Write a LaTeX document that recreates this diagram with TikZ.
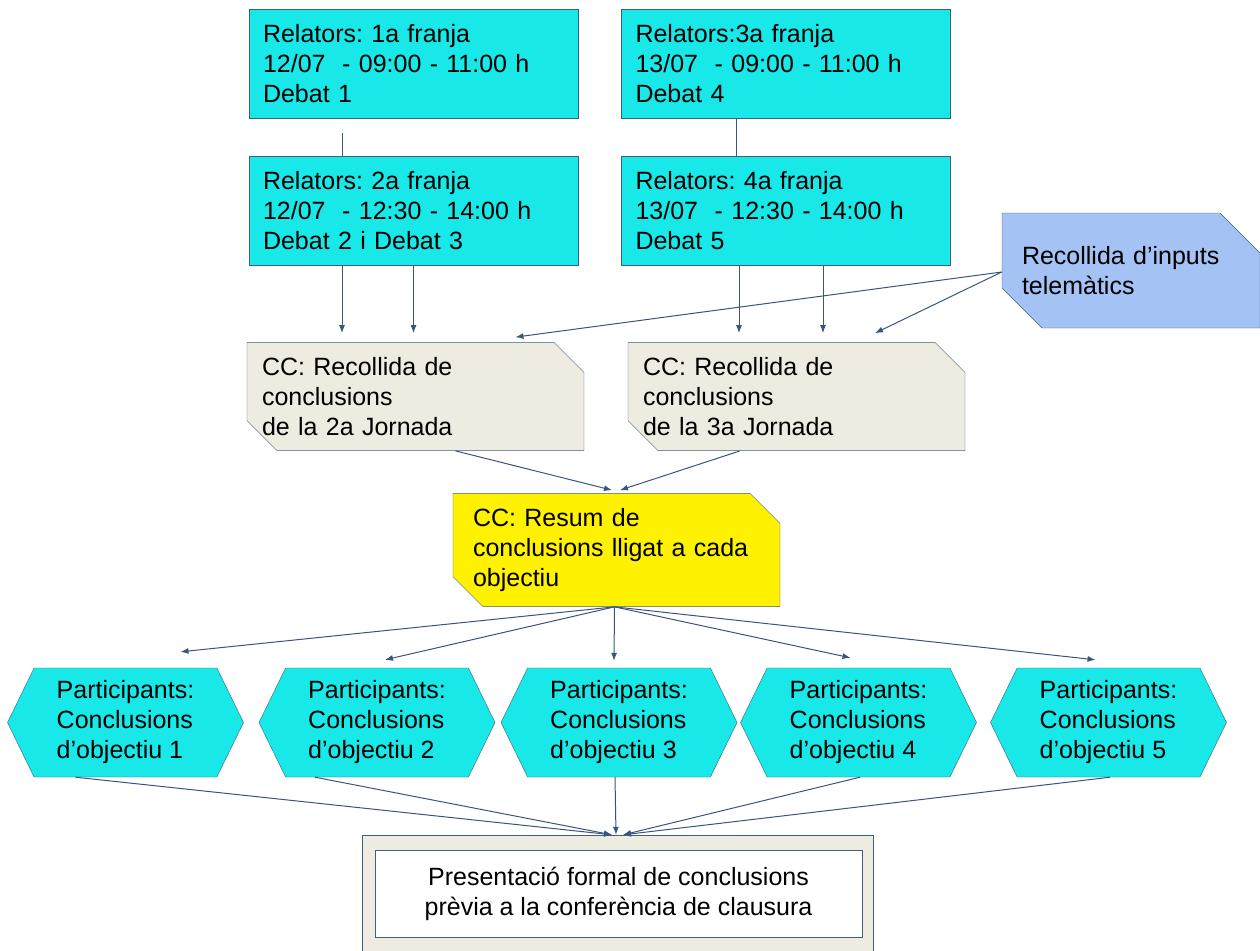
\documentclass[tikz,border=0pt]{standalone}
\usepackage{fontspec}
\setmainfont{Liberation Sans}
\usetikzlibrary{shapes.misc,shapes.symbols,arrows.meta}
\frenchspacing

\definecolor{slotcyan}{RGB}{24,232,232}
\definecolor{edgeblue}{RGB}{58,84,128}
\definecolor{shapeline}{RGB}{62,96,122}
\definecolor{ccgray}{RGB}{238,236,225}
\definecolor{inputblue}{RGB}{164,194,244}

\tikzset{
  slot/.style={rectangle, draw=shapeline, fill=slotcyan, inner xsep=14pt, inner ysep=0pt,
    text width=301pt, minimum height=109pt, align=left},
  cut/.style={chamfered rectangle, chamfered rectangle corners={north east, south west},
    draw=shapeline, inner ysep=0pt, align=left},
  collect/.style={cut, fill=ccgray, chamfered rectangle xsep=15pt, chamfered rectangle ysep=15pt,
    inner xsep=0pt, text width=307pt, minimum width=337pt, minimum height=107pt},
  summary/.style={cut, fill=yellow, chamfered rectangle xsep=15pt, chamfered rectangle ysep=15pt,
    inner xsep=0pt, text width=287pt, minimum width=327pt, minimum height=94pt},
  inputs/.style={cut, fill=inputblue, chamfered rectangle xsep=18pt, chamfered rectangle ysep=22pt,
    inner xsep=0pt, text width=218pt, minimum width=258pt, minimum height=115pt},
  goal/.style={signal, signal to=west and east, signal pointer angle=128, draw=shapeline,
    fill=slotcyan, inner sep=0pt, minimum width=236pt, minimum height=109pt, align=left},
  link/.style={draw=edgeblue, line width=1pt},
}

\begin{document}
\begin{tikzpicture}[x=1pt, y=-1pt, >={Latex[length=8pt,width=6pt]}, font=\fontsize{25}{30}\selectfont]
  \useasboundingbox (0,0) rectangle (1260,950);

  % relator slots
  \node[slot] (r1) at (413.5,63.5) {Relators: 1a franja\\12/07\ \ - 09:00 - 11:00 h\\Debat 1};
  \node[slot] (r2) at (786,63.5) {Relators:3a franja\\13/07\ \ - 09:00 - 11:00 h\\Debat 4};
  \node[slot] (r3) at (413.5,210.5) {Relators: 2a franja\\12/07\ \ - 12:30 - 14:00 h\\Debat 2 i Debat 3};
  \node[slot] (r4) at (786,210.5) {Relators: 4a franja\\13/07\ \ - 12:30 - 14:00 h\\Debat 5};

  \node[inputs] (inp) at (1131,270.5) {Recollida d’inputs\\telemàtics};

  % collecting conclusions
  \node[collect] (g1) at (415.5,396.5) {CC: Recollida de\\conclusions\\de la 2a Jornada};
  \node[collect] (g2) at (796.5,396.5) {CC: Recollida de\\conclusions\\de la 3a Jornada};

  \node[summary] (res) at (616.5,550) {CC: Resum de\\conclusions lligat a cada\\objectiu};

  \node[goal] (h1) at (125.5,722.5) {Participants:\\Conclusions\\d’objectiu 1};
  \node[goal] (h2) at (377,722.5) {Participants:\\Conclusions\\d’objectiu 2};
  \node[goal] (h3) at (619,722.5) {Participants:\\Conclusions\\d’objectiu 3};
  \node[goal] (h4) at (858.5,722.5) {Participants:\\Conclusions\\d’objectiu 4};
  \node[goal] (h5) at (1108.5,722.5) {Participants:\\Conclusions\\d’objectiu 5};

  \node[rectangle, draw=shapeline, fill=ccgray, minimum width=511pt, minimum height=117pt] (pres) at (617.5,893.5) {};
  \node[rectangle, draw=shapeline, fill=white, minimum width=487pt, minimum height=87pt, align=center] (prestext) at (618.5,893.5)
    {Presentació formal de conclusions\\prèvia a la conferència de clausura};

  % slot to slot
  \draw[link] ([xshift=-71.5pt,yshift=-15pt]r1.south) -- ([xshift=-71.5pt]r3.north);
  \draw[link] ([xshift=-50pt]r2.south) -- ([xshift=-50pt]r4.north);

  % slots to collecting
  \draw[link,->,shorten >=9pt] ([xshift=-71.5pt]r3.south) -- ([xshift=-71.5pt]r3.south |- g1.north);
  \draw[link,->,shorten >=9pt] (r3.south) -- (r3.south |- g1.north);
  \draw[link,->,shorten >=9pt] ([xshift=-47pt]r4.south) -- ([xshift=-47pt]r4.south |- g2.north);
  \draw[link,->,shorten >=9pt] ([xshift=37pt]r4.south) -- ([xshift=37pt]r4.south |- g2.north);
  \draw[link,->] ([yshift=-1.5pt]inp.west) -- ([xshift=100pt,yshift=5pt]g1.north);
  \draw[link,->] ([yshift=-1.5pt]inp.west) -- ([xshift=78.5pt,yshift=9pt]g2.north);

  % collecting to summary
  \draw[link,->] ([xshift=40pt]g1.south) -- ([xshift=-4.5pt,yshift=3pt]res.north);
  \draw[link,->] ([xshift=-56.5pt]g2.south) -- ([xshift=3.5pt,yshift=3pt]res.north);

  % summary to goals
  \draw[link,->] ([xshift=-2pt]res.south) -- ([xshift=55pt,yshift=16pt]h1.north);
  \draw[link,->] ([xshift=-2pt]res.south) -- ([xshift=8pt,yshift=8pt]h2.north);
  \draw[link,->] ([xshift=-2pt]res.south) -- ([xshift=-5pt,yshift=7pt]h3.north);
  \draw[link,->] ([xshift=-2pt]res.south) -- ([xshift=-8pt,yshift=10pt]h4.north);
  \draw[link,->] ([xshift=-2pt]res.south) -- ([xshift=-13pt,yshift=8pt]h5.north);

  % goals to presentation
  \draw[link,->] ([xshift=-50pt]h1.south) -- ([xshift=-5.5pt]pres.north);
  \draw[link,->] ([xshift=-62pt]h2.south) -- ([xshift=-5.5pt]pres.north);
  \draw[link,->] ([xshift=-4pt]h3.south) -- ([xshift=-1.5pt]pres.north);
  \draw[link,->] ([xshift=1.5pt]h4.south) -- ([xshift=5.5pt]pres.north);
  \draw[link,->] ([xshift=1.5pt]h5.south) -- ([xshift=5.5pt]pres.north);
\end{tikzpicture}
\end{document}
